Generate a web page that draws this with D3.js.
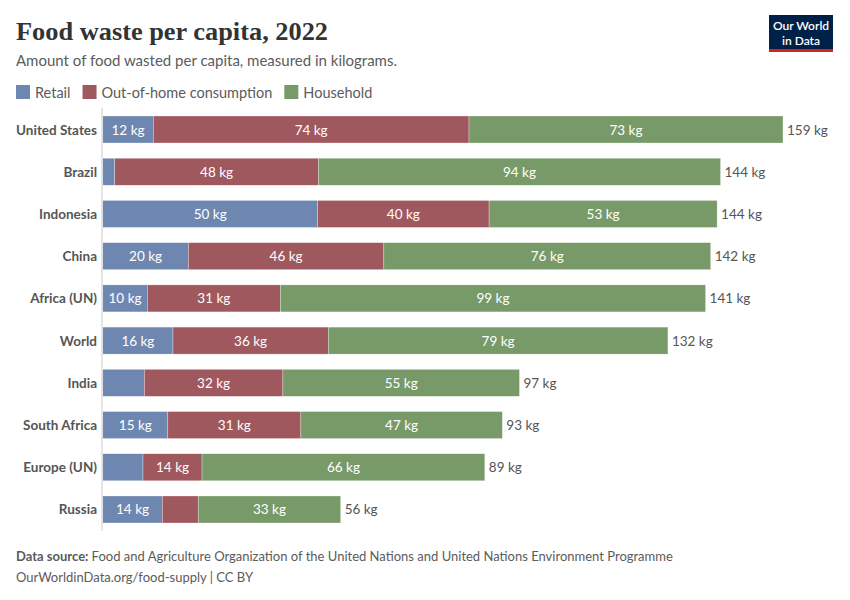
<!DOCTYPE html>
<html>
<head>
<meta charset="utf-8">
<script src="https://cdn.jsdelivr.net/npm/d3@7"></script>
<style>
  body { margin: 0; background: #fff; }
  svg { display: block; }
</style>
</head>
<body>
<svg id="chart" width="850" height="600"></svg>
<script>
const countries = ["United States", "Brazil", "Indonesia", "China", "Africa (UN)", "World", "India", "South Africa", "Europe (UN)", "Russia"];
const seriesNames = ["Retail", "Out-of-home consumption", "Household"];
const retail    = [11.8, 2.8, 50.2, 20.0, 10.4, 16.4, 9.7, 15.2, 9.4, 13.9];
const outOfHome = [73.8, 47.6, 40.1, 45.7, 31.1, 36.3, 32.4, 31.1, 13.8, 8.4];
const household = [73.4, 94.0, 53.3, 76.4, 99.4, 79.4, 55.3, 47.1, 66.1, 33.3];
const colors = ["#6e87b0", "#a0585f", "#789a68"];

const svg = d3.select("#chart");
const font = "Lato, 'Open Sans', sans-serif";

// Title
svg.append("text").attr("x", 16).attr("y", 40)
  .attr("font-family", "'Liberation Serif', 'DejaVu Serif', serif")
  .attr("font-weight", "bold").attr("font-size", 26).attr("fill", "#333")
  .attr("textLength", 312).attr("lengthAdjust", "spacingAndGlyphs")
  .text("Food waste per capita, 2022");
svg.append("text").attr("x", 16).attr("y", 66)
  .attr("font-family", font).attr("font-size", 15).attr("fill", "#5b5b5b")
  .text("Amount of food wasted per capita, measured in kilograms.");

// Logo
const logo = svg.append("g");
logo.append("rect").attr("x", 769).attr("y", 15).attr("width", 64).attr("height", 35).attr("fill", "#002147");
logo.append("rect").attr("x", 769).attr("y", 49).attr("width", 64).attr("height", 3).attr("fill", "#ce261e");
logo.append("text").attr("x", 801).attr("y", 30).attr("text-anchor", "middle")
  .attr("font-family", font).attr("font-weight", 600).attr("font-size", 12).attr("fill", "#fff").text("Our World");
logo.append("text").attr("x", 801).attr("y", 44.5).attr("text-anchor", "middle")
  .attr("font-family", font).attr("font-weight", 600).attr("font-size", 12).attr("fill", "#fff").text("in Data");

// Legend
const legend = svg.append("g");
let lx = 16;
seriesNames.forEach((name, i) => {
  legend.append("rect").attr("x", lx).attr("y", 85).attr("width", 14).attr("height", 14).attr("fill", colors[i]);
  const t = legend.append("text").attr("x", lx + 19).attr("y", 97.5)
    .attr("font-family", font).attr("font-size", 14.5).attr("fill", "#5b5b5b").text(name);
  lx += 19 + t.node().getComputedTextLength() + 12;
});

// Scales
const x = d3.scaleLinear().domain([0, 159.0]).range([102.8, 783]);
const y = d3.scaleBand().domain(countries).range([108.4, 530.6]).paddingInner(0.36).paddingOuter(0.18);

// axis line
svg.append("line").attr("x1", 102).attr("x2", 102).attr("y1", 108).attr("y2", 531)
  .attr("stroke", "#ddd").attr("stroke-width", 1.5);

const rows = countries.map((c, i) => ({ country: c, vals: [retail[i], outOfHome[i], household[i]] }));
const fmt = v => Math.round(v) + " kg";

rows.forEach(r => {
  let cum = 0;
  const g = svg.append("g");
  const cy = y(r.country) + y.bandwidth() / 2 + 5;
  r.vals.forEach((v, k) => {
    const x0 = x(cum), x1 = x(cum + v);
    g.append("rect").attr("x", x0).attr("y", y(r.country))
      .attr("width", x1 - x0).attr("height", y.bandwidth())
      .attr("fill", colors[k]).attr("stroke", "#fff").attr("stroke-width", 0.5).attr("stroke-opacity", 0.6);
    if (v >= 10) {
      g.append("text").attr("x", (x0 + x1) / 2).attr("y", cy)
        .attr("text-anchor", "middle").attr("font-family", font).attr("font-size", 13.5)
        .attr("fill", "#fff").text(fmt(v));
    }
    cum += v;
  });
  g.append("text").attr("x", x(cum) + 4).attr("y", cy)
    .attr("font-family", font).attr("font-size", 13.5).attr("fill", "#555").text(fmt(cum));
  g.append("text").attr("x", 97).attr("y", cy)
    .attr("text-anchor", "end").attr("font-family", font).attr("font-size", 13.5)
    .attr("font-weight", "bold").attr("fill", "#555").text(r.country);
});

// Footer
const f1 = svg.append("text").attr("x", 16).attr("y", 561)
  .attr("font-family", font).attr("font-size", 13).attr("fill", "#5b5b5b");
f1.append("tspan").attr("font-weight", "bold").text("Data source: ");
f1.append("tspan").text("Food and Agriculture Organization of the United Nations and United Nations Environment Programme");
svg.append("text").attr("x", 16).attr("y", 582)
  .attr("font-family", font).attr("font-size", 13).attr("fill", "#5b5b5b")
  .text("OurWorldinData.org/food-supply | CC BY");
</script>
</body>
</html>
